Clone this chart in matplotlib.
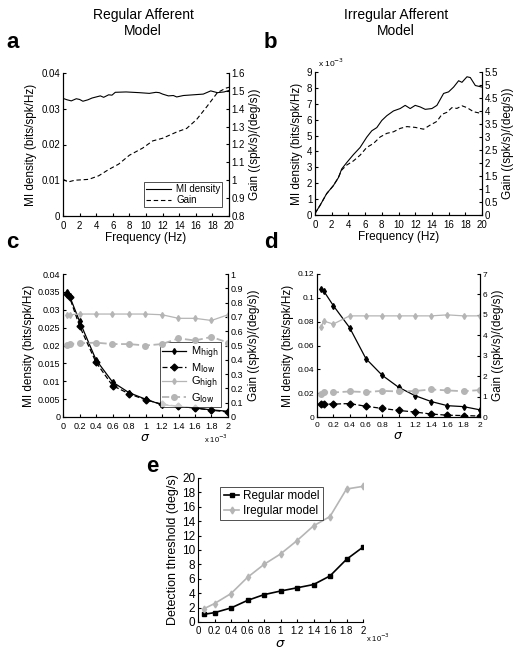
import matplotlib
matplotlib.use("Agg")
import matplotlib.pyplot as plt
from matplotlib.ticker import FormatStrFormatter, MultipleLocator

plt.rcParams['font.family'] = ['Liberation Sans', 'DejaVu Sans']
plt.rcParams['xtick.direction'] = 'in'
plt.rcParams['ytick.direction'] = 'in'
plt.rcParams['xtick.major.size'] = 2.5
plt.rcParams['ytick.major.size'] = 2.5
plt.rcParams['axes.linewidth'] = 0.8

# ===== Data =====
# panel a: regular afferent, MI density and gain vs frequency
freq_mi_a = [0, 0.5, 1.0, 1.6, 2.0, 2.4, 3.0, 3.5, 4.0, 4.5, 4.9, 5.5, 5.9, 6.3, 7.6, 8.4,
             9.2, 10.4, 11.2, 11.6, 12.0, 12.7, 13.3, 13.7, 14.5, 15.7, 16.9, 17.8, 18.6, 19.4, 20.0]
mi_a = [0.0329, 0.0325, 0.0322, 0.0328, 0.0326, 0.0321, 0.0325, 0.0330, 0.0333, 0.0336, 0.0332,
        0.0339, 0.0338, 0.0346, 0.0347, 0.0346, 0.0345, 0.0343, 0.0346, 0.0345, 0.0341, 0.0336,
        0.0337, 0.0333, 0.0337, 0.0339, 0.0341, 0.0350, 0.0345, 0.0347, 0.0351]
freq_gain_a = [0, 0.6, 1.4, 3.1, 4.3, 5.5, 6.7, 8.0, 9.6, 10.8, 12.0, 13.7, 14.9, 16.1, 17.3,
               18.6, 19.6, 20]
gain_a = [1.006, 0.99, 1.0, 1.005, 1.025, 1.06, 1.09, 1.14, 1.18, 1.22, 1.235, 1.27, 1.29,
          1.34, 1.41, 1.49, 1.515, 1.52]

# panel b: irregular afferent (MI in units of 1e-3)
freq_mi_b = [0, 0.6, 1.4, 2.2, 2.8, 3.2, 3.8, 4.6, 5.4, 6.2, 6.8, 7.4, 8.0, 8.6, 9.4, 10.2,
             10.8, 11.4, 12.0, 12.6, 13.2, 14.0, 14.6, 15.4, 16.0, 16.6, 17.2, 17.6, 18.2, 18.6,
             19.2, 20.0]
mi_b = [0.1, 0.6, 1.35, 1.85, 2.35, 2.9, 3.3, 3.8, 4.25, 4.9, 5.3, 5.5, 5.95, 6.25, 6.55, 6.7,
        6.9, 6.7, 6.9, 6.8, 6.65, 6.7, 6.9, 7.65, 7.75, 8.05, 8.45, 8.35, 8.7, 8.65, 8.15, 8.05]
freq_gain_b = [0, 0.6, 1.4, 2.2, 2.8, 3.2, 3.8, 4.6, 5.4, 6.2, 7.0, 7.8, 8.6, 9.4, 10.2, 11.0,
               12.0, 13.0, 13.8, 14.6, 15.2, 15.8, 16.4, 17.0, 17.6, 18.2, 19.0, 20.0]
gain_b = [0.06, 0.37, 0.82, 1.13, 1.44, 1.73, 1.92, 2.08, 2.3, 2.6, 2.75, 3.0, 3.14, 3.2, 3.33,
          3.4, 3.37, 3.3, 3.46, 3.6, 3.87, 3.95, 4.13, 4.1, 4.2, 4.13, 3.97, 3.9]

# panels c, d: vs sigma (units of 1e-3)
sigma = [0.05, 0.08, 0.2, 0.4, 0.6, 0.8, 1.0, 1.2, 1.4, 1.6, 1.8, 2.0]
m_high_c = [0.0350, 0.0338, 0.0268, 0.0160, 0.0098, 0.0068, 0.0050, 0.0034, 0.0030, 0.0025, 0.0020, 0.0016]
m_low_c = [0.0345, 0.0335, 0.0255, 0.0153, 0.0088, 0.0065, 0.0048, 0.0036, 0.0030, 0.0025, 0.0019, 0.0014]
g_high_c = [0.71, 0.715, 0.72, 0.72, 0.72, 0.72, 0.72, 0.715, 0.69, 0.69, 0.675, 0.715]
g_low_c = [0.505, 0.51, 0.515, 0.52, 0.51, 0.51, 0.50, 0.51, 0.55, 0.535, 0.56, 0.52]

m_high_d = [0.107, 0.106, 0.0935, 0.075, 0.049, 0.035, 0.025, 0.018, 0.013, 0.0095, 0.0087, 0.006]
m_low_d = [0.0108, 0.0108, 0.0108, 0.0113, 0.0090, 0.0072, 0.0055, 0.0042, 0.0025, 0.0015, 0.0012, 0.0008]
g_high_d = [4.4, 4.7, 4.55, 4.95, 4.95, 4.95, 4.95, 4.95, 4.95, 5.0, 4.95, 4.95]
g_low_d = [1.15, 1.2, 1.2, 1.25, 1.22, 1.28, 1.25, 1.27, 1.35, 1.3, 1.26, 1.32]

# panel e: detection threshold
sigma_e = [0.075, 0.2, 0.4, 0.6, 0.8, 1.0, 1.2, 1.4, 1.6, 1.8, 2.0]
thr_regular = [1.07, 1.3, 1.95, 3.0, 3.8, 4.3, 4.75, 5.2, 6.4, 8.7, 10.4]
thr_irregular = [1.86, 2.56, 3.95, 6.2, 8.0, 9.45, 11.3, 13.35, 14.65, 18.47, 18.84]

GRAY = '#b5b5b5'
W, H = 523, 657


def add_ax(fig, x0, y0, x1, y1):
    """axes from pixel box (top-left origin)"""
    return fig.add_axes([x0 / W, (H - y1) / H, (x1 - x0) / W, (y1 - y0) / H])


def style_twin(ax, ax2, tick_fs):
    ax.spines['top'].set_visible(False)
    ax2.spines['top'].set_visible(False)
    ax.tick_params(labelsize=tick_fs, pad=2)
    ax.tick_params(axis='x', pad=3.5)
    ax2.tick_params(labelsize=tick_fs, pad=2)
    ax.yaxis.set_major_formatter(FormatStrFormatter('%g'))
    ax2.yaxis.set_major_formatter(FormatStrFormatter('%g'))
    ax.xaxis.set_major_formatter(FormatStrFormatter('%g'))


fig = plt.figure(figsize=(W / 100, H / 100), dpi=100)

# ===== Panel a =====
ax = add_ax(fig, 63, 73, 229, 216)
ax2 = ax.twinx()
l1, = ax.plot(freq_mi_a, mi_a, color='k', lw=0.8)
l2, = ax2.plot(freq_gain_a, gain_a, color='k', lw=0.8, ls=(0, (4, 2.5)))
ax.set_xlim(0, 20)
ax.set_ylim(0, 0.04)
ax2.set_ylim(0.8, 1.6)
ax.xaxis.set_major_locator(MultipleLocator(2))
ax.yaxis.set_major_locator(MultipleLocator(0.01))
ax2.yaxis.set_major_locator(MultipleLocator(0.1))
style_twin(ax, ax2, 7)
ax.set_xlabel('Frequency (Hz)', fontsize=8.5, labelpad=1)
ax.set_ylabel('MI density (bits/spk/Hz)', fontsize=8.5, labelpad=3)
ax2.set_ylabel('Gain ((spk/s)/(deg/s))', fontsize=8.5, labelpad=3)
leg = ax.legend([l1, l2], ['MI density', 'Gain'], loc='lower right', fontsize=7,
                frameon=True, fancybox=False, edgecolor='k', handlelength=2.6,
                borderpad=0.2, labelspacing=0.05, handletextpad=0.5,
                bbox_to_anchor=(0.99, 0.03))
leg.get_frame().set_linewidth(0.6)

# ===== Panel b =====
ax = add_ax(fig, 315, 72, 482, 215)
ax2 = ax.twinx()
ax.plot(freq_mi_b, mi_b, color='k', lw=0.8)
ax2.plot(freq_gain_b, gain_b, color='k', lw=0.8, ls=(0, (4, 2.5)))
ax.set_xlim(0, 20)
ax.set_ylim(0, 9)
ax2.set_ylim(0, 5.5)
ax.xaxis.set_major_locator(MultipleLocator(2))
ax.yaxis.set_major_locator(MultipleLocator(1))
ax2.yaxis.set_major_locator(MultipleLocator(0.5))
style_twin(ax, ax2, 7)
ax.set_xlabel('Frequency (Hz)', fontsize=8.5, labelpad=1)
ax.set_ylabel('MI density (bits/spk/Hz)', fontsize=8.5, labelpad=3)
ax2.set_ylabel('Gain ((spk/s)/(deg/s))', fontsize=8.5, labelpad=3)
ax.text(0.02, 1.02, r'x 10$^{-3}$', transform=ax.transAxes, fontsize=6, va='bottom')

# ===== Panel c =====
ax = add_ax(fig, 63, 274, 228, 417)
ax2 = ax.twinx()
h1, = ax.plot(sigma, m_high_c, color='k', lw=0.9, marker='d', ms=3)
h2, = ax.plot(sigma, m_low_c, color='k', lw=0.9, ls=(0, (4, 2)), marker='D', ms=3.5)
h3, = ax2.plot(sigma, g_high_c, color=GRAY, lw=0.9, marker='d', ms=3)
h4, = ax2.plot(sigma, g_low_c, color=GRAY, lw=1.3, ls=(0, (4, 2)), marker='o', ms=4)
ax.set_xlim(0, 2)
ax.set_ylim(0, 0.04)
ax2.set_ylim(0, 1)
ax.xaxis.set_major_locator(MultipleLocator(0.2))
ax.yaxis.set_major_locator(MultipleLocator(0.005))
ax2.yaxis.set_major_locator(MultipleLocator(0.1))
style_twin(ax, ax2, 6.5)
ax.set_xlabel(r'$\sigma$', fontsize=9, labelpad=1)
ax.set_ylabel('MI density (bits/spk/Hz)', fontsize=8.5, labelpad=2)
ax2.set_ylabel('Gain ((spk/s)/(deg/s))', fontsize=8.5, labelpad=3)
ax.text(1.0, -0.11, r'x 10$^{-3}$', transform=ax.transAxes, fontsize=5.5, ha='right', va='top')
leg = ax.legend([h1, h2, h3, h4],
                [r'M$_{\mathrm{high}}$', r'M$_{\mathrm{low}}$',
                 r'G$_{\mathrm{high}}$', r'G$_{\mathrm{low}}$'],
                loc='lower right', fontsize=8, frameon=True, fancybox=False,
                edgecolor='k', handlelength=2.2, borderpad=0.2, labelspacing=0.0,
                handletextpad=0.4, bbox_to_anchor=(0.99, 0.03))
leg.get_frame().set_linewidth(0.6)

# ===== Panel d =====
ax = add_ax(fig, 317, 274, 480, 417)
ax2 = ax.twinx()
ax.plot(sigma, m_high_d, color='k', lw=0.9, marker='d', ms=3)
ax.plot(sigma, m_low_d, color='k', lw=0.9, ls=(0, (4, 2)), marker='D', ms=3.5)
ax2.plot(sigma, g_high_d, color=GRAY, lw=0.9, marker='d', ms=3)
ax2.plot(sigma, g_low_d, color=GRAY, lw=1.3, ls=(0, (4, 2)), marker='o', ms=4)
ax.set_xlim(0, 2)
ax.set_ylim(0, 0.12)
ax2.set_ylim(0, 7)
ax.xaxis.set_major_locator(MultipleLocator(0.2))
ax.yaxis.set_major_locator(MultipleLocator(0.02))
ax2.yaxis.set_major_locator(MultipleLocator(1))
style_twin(ax, ax2, 6)
ax.set_xlabel(r'$\sigma$', fontsize=9, labelpad=1)
ax.set_ylabel('MI density (bits/spk/Hz)', fontsize=8.5, labelpad=3)
ax2.set_ylabel('Gain ((spk/s)/(deg/s))', fontsize=8.5, labelpad=3)

# ===== Panel e =====
ax = add_ax(fig, 198, 478, 363, 622)
ax.plot(sigma_e, thr_regular, color='k', lw=1.2, marker='s', ms=3, label='Regular model')
ax.plot(sigma_e, thr_irregular, color=GRAY, lw=1.2, marker='d', ms=3.5, label='Iregular model')
ax.set_xlim(0, 2)
ax.set_ylim(0, 20)
ax.xaxis.set_major_locator(MultipleLocator(0.2))
ax.yaxis.set_major_locator(MultipleLocator(2))
ax.xaxis.set_major_formatter(FormatStrFormatter('%g'))
ax.spines['top'].set_visible(False)
ax.spines['right'].set_visible(False)
ax.tick_params(axis='y', labelsize=8.5, pad=2)
ax.tick_params(axis='x', labelsize=7, pad=3)
ax.set_xlabel(r'$\sigma$', fontsize=9.5, labelpad=1)
ax.set_ylabel('Detection threshold (deg/s)', fontsize=9, labelpad=2)
ax.text(1.02, -0.07, r'x 10$^{-3}$', transform=ax.transAxes, fontsize=5.5, ha='left', va='top')
leg = ax.legend(loc='upper left', fontsize=8.5, frameon=True, fancybox=False, edgecolor='k',
                handlelength=1.3, borderpad=0.3, labelspacing=0.2, handletextpad=0.3,
                bbox_to_anchor=(0.1, 0.98))
leg.get_frame().set_linewidth(0.6)

# ===== Titles and panel letters =====
fig.text(143 / W, 1 - 8 / H, 'Regular Afferent\nModel', ha='center', va='top', fontsize=10)
fig.text(396 / W, 1 - 8 / H, 'Irregular Afferent\nModel', ha='center', va='top', fontsize=10)
for letter, (px, py) in {'a': (6, 48), 'b': (264, 48), 'c': (6, 248),
                         'd': (264, 248), 'e': (146, 472)}.items():
    fig.text(px / W, 1 - py / H, letter, fontsize=16, fontweight='bold', va='baseline')

fig.savefig('out.png', dpi=100)
